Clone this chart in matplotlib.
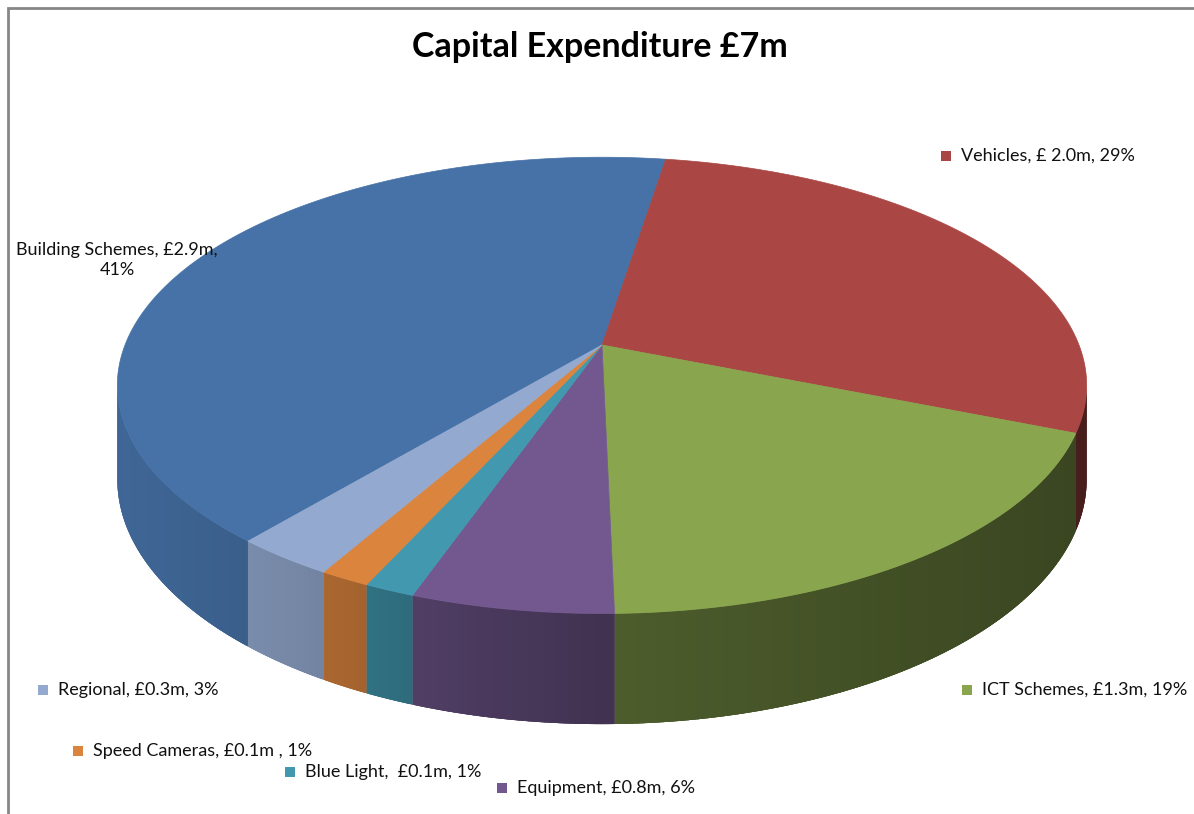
import numpy as np
import matplotlib
matplotlib.use("Agg")
import matplotlib.pyplot as plt
from matplotlib.patches import Polygon

# chart data (£m, clockwise from the Building Schemes edge)
categories = ["Building Schemes", "Vehicles", "ICT Schemes", "Equipment",
              "Blue Light", "Speed Cameras", "Regional"]
values = [2.9, 2.0, 1.3, 0.4, 0.1, 0.1, 0.2]
labels = ["Building Schemes, £2.9m,\n41%", "Vehicles, £ 2.0m, 29%",
          "ICT Schemes, £1.3m, 19%", "Equipment, £0.8m, 6%",
          "Blue Light,  £0.1m, 1%", "Speed Cameras, £0.1m , 1%",
          "Regional, £0.3m, 3%"]
colors = ["#4672A7", "#AA4644", "#89A54E", "#72588F", "#4198AF", "#DB843D", "#93A9CF"]
title = "Capital Expenditure £7m"

plt.rcParams["font.family"] = ["Lato", "DejaVu Sans"]

# pie geometry, in pixel coordinates
cx, cy = 602, 345        # apex of the slices
R, B = 477, 221          # horizontal / vertical radius
k = 0.177                # perspective
T = 91                   # thickness
start = 230.1            # degrees, slices go clockwise

fig = plt.figure(figsize=(11.94, 8.14), dpi=100)
ax = fig.add_axes([0, 0, 1, 1])
ax.set_xlim(0, 1194)
ax.set_ylim(814, 0)
ax.axis("off")


def proj(theta_deg, bottom=False):
    t = np.radians(theta_deg)
    X, Y = np.cos(t), np.sin(t)
    d = 1 + k * Y
    sx = cx + R * X / d
    sy = cy - B * Y / d
    if bottom:
        sy = sy + T / d
    return sx, sy


def shade(x):
    return np.interp(x, [118, 300, 500, 620, 1090], [0.9, 0.8, 0.64, 0.56, 0.42])


def darker(c, f):
    r, g, b = matplotlib.colors.to_rgb(c)
    return (r * f, g * f, b * f)


# slice boundaries
total = sum(values)
bounds = [start]
for v in values:
    bounds.append(bounds[-1] - v / total * 360)

sil = np.degrees(np.arcsin(k))
vis_lo, vis_hi = -180 + sil, -sil

# side walls
for i, c in enumerate(colors):
    hi, lo = bounds[i], bounds[i + 1]
    for off in (0, 360, -360):
        a = max(lo, vis_lo + off)
        b = min(hi, vis_hi + off)
        if b <= a:
            continue
        ts = np.linspace(a, b, max(int((b - a) * 2), 2))
        tx, ty = proj(ts)
        bx, by = proj(ts, bottom=True)
        pts = np.column_stack([np.r_[tx, bx[::-1]], np.r_[ty, by[::-1]]])
        ax.add_patch(Polygon(pts, closed=True, facecolor=darker(c, shade(tx.mean())),
                             edgecolor="none", zorder=2))
        for j in range(len(ts) - 1):
            t0 = max(a, ts[j] - 0.3)
            t1 = min(b, ts[j + 1] + 0.3)
            qx, qy = proj(np.array([t0, t1]))
            px, py = proj(np.array([t0, t1]), bottom=True)
            quad = [(qx[0], qy[0]), (qx[1], qy[1]), (px[1], py[1]), (px[0], py[0])]
            ax.add_patch(Polygon(quad, closed=True,
                                 facecolor=darker(c, shade(qx.mean())),
                                 edgecolor="none", zorder=3))

# top faces
for i, c in enumerate(colors):
    hi, lo = bounds[i], bounds[i + 1]
    ts = np.linspace(hi, lo, max(int((hi - lo) * 2), 3))
    tx, ty = proj(ts)
    pts = np.column_stack([np.r_[cx, tx], np.r_[cy, ty]])
    ax.add_patch(Polygon(pts, closed=True, facecolor=c, edgecolor=c,
                         linewidth=0.5, zorder=4))

# chart frame
ax.plot([8, 8, 1194], [814, 8, 8], color="#868686", linewidth=2, zorder=1,
        solid_joinstyle="miter")

ax.text(600, 47, title, ha="center", va="center", fontsize=24.5,
        fontweight="bold", color="black", zorder=6)

# data labels
fs = 13
ax.text(117, 260, labels[0], ha="center", va="center", fontsize=fs,
        color="#111111", multialignment="center", linespacing=1.35, zorder=6)

label_pos = {1: (946, 156), 2: (967, 690), 3: (502, 788),
             4: (290, 772), 5: (78, 751), 6: (43, 690)}
for i, (mx, my) in label_pos.items():
    ax.plot(mx, my, marker="s", markersize=7, color=colors[i],
            markeredgewidth=0, zorder=5)
    ax.text(mx + 15, my, labels[i], ha="left", va="center", fontsize=fs,
            color="#111111", zorder=6)

fig.savefig("out.png", dpi=100)
